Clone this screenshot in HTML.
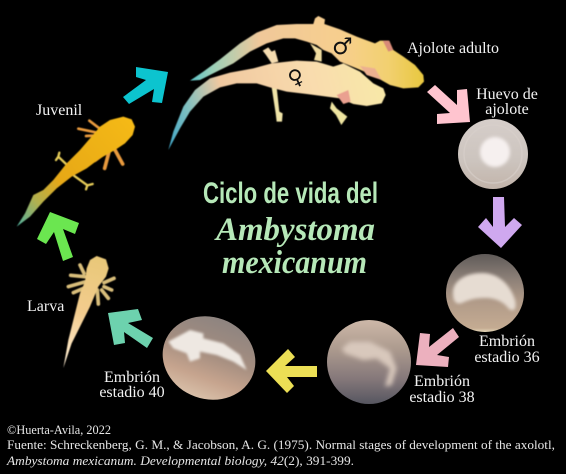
<!DOCTYPE html>
<html lang="es">
<head>
<meta charset="utf-8">
<title>Ciclo de vida del Ambystoma mexicanum</title>
<style>
html,body{margin:0;padding:0;background:#000;width:566px;height:474px;overflow:hidden}
svg{display:block;filter:blur(0.35px)}
.lab{font-family:"Liberation Serif",serif;font-size:16px;fill:#f2f2f2}
.foot{font-family:"Liberation Serif",serif;font-size:13px;fill:#e6e6e6}
.ttl{fill:#b6e8b8}
</style>
</head>
<body>
<svg width="566" height="474" viewBox="0 0 566 474" xmlns="http://www.w3.org/2000/svg">
<defs>
<filter id="b1" x="-20%" y="-20%" width="140%" height="140%"><feGaussianBlur stdDeviation="1.5"/></filter>
<filter id="b2" x="-30%" y="-30%" width="160%" height="160%"><feGaussianBlur stdDeviation="1.5"/></filter>
<filter id="b3" x="-30%" y="-30%" width="160%" height="160%"><feGaussianBlur stdDeviation="4"/></filter>
<filter id="b5" x="-30%" y="-30%" width="160%" height="160%"><feGaussianBlur stdDeviation="7"/></filter>
<linearGradient id="male" x1="150" y1="240" x2="850" y2="230" gradientUnits="userSpaceOnUse">
<stop offset="0" stop-color="#5cc4c8"/><stop offset=".1" stop-color="#9cd0b8"/><stop offset=".3" stop-color="#f0c89a"/><stop offset=".65" stop-color="#f7cf8e"/><stop offset=".85" stop-color="#f2d070"/><stop offset="1" stop-color="#e8c840"/>
</linearGradient>
<linearGradient id="female" x1="85" y1="450" x2="735" y2="280" gradientUnits="userSpaceOnUse">
<stop offset="0" stop-color="#3fa6c8"/><stop offset=".13" stop-color="#7fc0c0"/><stop offset=".3" stop-color="#f0c8a0"/><stop offset=".7" stop-color="#f9dcae"/><stop offset="1" stop-color="#f8e8a8"/>
</linearGradient>
<linearGradient id="juv" x1="50" y1="500" x2="405" y2="200" gradientUnits="userSpaceOnUse">
<stop offset="0" stop-color="#4fb0a0"/><stop offset=".2" stop-color="#b0b050"/><stop offset=".4" stop-color="#e6a818"/><stop offset="1" stop-color="#f5b915"/>
</linearGradient>
<linearGradient id="lar" x1="190" y1="924" x2="290" y2="588" gradientUnits="userSpaceOnUse">
<stop offset="0" stop-color="#fff0d8"/><stop offset=".5" stop-color="#f3cc8e"/><stop offset="1" stop-color="#e8c878"/>
</linearGradient>
<linearGradient id="egg1" x1="0" y1="0" x2="0" y2="1">
<stop offset="0" stop-color="#d6ceca"/><stop offset=".6" stop-color="#ccc4be"/><stop offset="1" stop-color="#c2b4aa"/>
</linearGradient>
<linearGradient id="egg2" x1="0" y1="0" x2="0" y2="1">
<stop offset="0" stop-color="#5f5a58"/><stop offset=".3" stop-color="#8a7e76"/><stop offset=".6" stop-color="#b09a88"/><stop offset=".95" stop-color="#c4ab92"/><stop offset="1" stop-color="#e6d8b8"/>
</linearGradient>
<linearGradient id="egg3" x1="0" y1="0" x2="0" y2="1">
<stop offset="0" stop-color="#cdb8a8"/><stop offset=".35" stop-color="#ac9a8e"/><stop offset=".7" stop-color="#85787a"/><stop offset="1" stop-color="#565660"/>
</linearGradient>
<linearGradient id="egg4" x1="0" y1="0" x2="0" y2="1">
<stop offset="0" stop-color="#8e8480"/><stop offset=".45" stop-color="#a58e80"/><stop offset=".75" stop-color="#c6a48e"/><stop offset="1" stop-color="#d8bfa8"/>
</linearGradient>
</defs>

<rect width="566" height="474" fill="#000"/>

<!-- arrows -->
<polygon fill="#0cc4cf" points="136,67 168,72 162,103 152,102 154,89 129,104 123,97 146,80 136,77"/>
<polygon fill="#ffc4cf" points="470,122 437,124 437,114 450,113 427,92 435,85 457,105 457,90 467,89"/>
<polygon fill="#cfa8ef" points="501,248 478,227 486,218 493,227 493,197 504,197 505,227 514,218 522,225"/>
<polygon fill="#ecb0be" points="416,365 420,333 430,334 429,347 453,328 459,337 437,355 449,357 448,367"/>
<polygon fill="#ecdf55" points="266,371 288,349 295,357 285,366 317,366 317,377 287,377 294,386 287,393"/>
<polygon fill="#6dd2ae" points="108,313 138,309 142,320 128,323 153,338 147,348 124,332 125,343 114,345"/>
<polygon fill="#6be650" points="50,212 79,223 75,234 63,229 73,257 63,261 54,232 46,244 37,239"/>

<!-- adults: traced in 3x coordinates -->
<g transform="translate(140,0) scale(.33333)" filter="url(#b1)">
<g>
<polygon fill="#f0dca0" points="510,130 545,150 545,185 522,180 528,160"/>
<polygon fill="url(#male)" points="150,242 190,215 240,178 300,130 350,98 410,75 470,72 520,72 525,55 535,48 555,58 553,72 600,88 650,110 705,130 720,122 745,122 760,150 790,170 825,195 850,225 852,245 835,262 790,265 750,255 720,238 690,222 650,205 600,185 575,160 550,150 530,135 500,125 465,115 430,115 380,130 330,155 280,190 230,215 180,240"/>
<polygon fill="#d88a78" points="728,122 748,122 760,150 745,155"/>
<polygon fill="#ecb090" points="660,198 705,205 725,240 680,225"/>
</g>
<g>
<polygon fill="#f5dcb0" points="395,190 378,165 368,152 385,142 395,155 405,150 415,185"/>
<polygon fill="#f0e4a8" points="395,262 410,262 418,335 428,340 426,365 410,365 407,340"/>
<polygon fill="#eee4a0" points="575,305 590,325 622,350 604,375 588,345 570,325"/>
<polygon fill="url(#female)" points="85,450 100,395 130,320 165,270 210,235 270,218 340,205 395,190 470,182 530,185 580,200 610,190 640,205 660,215 700,250 730,265 737,285 725,310 680,318 640,312 600,295 560,290 500,282 440,275 390,262 350,250 290,250 240,262 190,290 150,335 120,385"/>
<polygon fill="#eaa090" points="590,285 625,270 632,305 610,312"/>
</g>
</g>
<text x="332" y="54" font-family="DejaVu Sans,sans-serif" font-size="23" fill="#111">♂</text>
<text x="0" y="0" transform="translate(292,87) rotate(-25)" font-family="DejaVu Sans,sans-serif" font-size="21" fill="#111">♀</text>

<!-- juvenile: traced in 3x coordinates -->
<g transform="translate(0,60) scale(.33333)" filter="url(#b1)">
<g fill="none" stroke="#e89a3e" stroke-linecap="round">
<path d="M298,205 L268,182 M292,218 L235,206 M295,226 L258,228" stroke-width="8"/>
<path d="M345,270 L368,312 M328,272 L314,325" stroke-width="11"/>
<path d="M312,282 L285,302" stroke-width="9"/>
</g>
<g fill="none" stroke="#e6cc58" stroke-linecap="round" stroke-width="7">
<path d="M198,312 L175,290 M175,290 L168,300 M175,290 L178,278"/>
<path d="M222,347 L262,376 M262,376 L278,372 M262,376 L258,388"/>
</g>
<polygon fill="url(#juv)" points="50,500 75,460 100,405 130,390 160,360 200,310 240,270 270,235 300,200 330,180 370,170 395,178 405,200 398,225 375,250 345,270 300,295 260,325 215,350 170,385 130,425 90,470"/>
</g>

<!-- larva: traced in 3x coordinates -->
<g transform="translate(0,60) scale(.33333)" filter="url(#b1)">
<g fill="none" stroke="#d8bd7a" stroke-width="11" stroke-linecap="round">
<path d="M255,650 L212,646 M258,665 L205,680 M262,680 L220,698 M252,640 L240,615"/>
<path d="M312,668 L342,655 M312,680 L335,690 M305,690 L325,715 M292,690 L295,732"/>
</g>
<polygon fill="url(#lar)" points="290,588 318,598 326,625 318,650 295,680 270,740 245,790 215,850 190,924 205,840 225,760 240,700 255,665 260,625 270,600"/>
</g>

<!-- eggs -->
<g>
<circle cx="493" cy="154" r="35" fill="url(#egg1)"/>
<circle cx="493" cy="154" r="29" fill="none" stroke="#d8d0cc" stroke-width="1.5" opacity=".6"/>
<circle cx="495" cy="152" r="15" fill="#f6f0ef" filter="url(#b2)"/>
</g>
<g>
<circle cx="485" cy="293" r="39" fill="url(#egg2)"/>
<path d="M453,294 C452,282 464,273 482,273 C498,273 510,284 515,300 C517,309 514,312 509,309 C504,302 496,298 485,298 C475,298 468,300 462,303 C456,305 453,301 453,294 Z" fill="#e6dcd2" filter="url(#b2)"/>
</g>
<g>
<circle cx="369" cy="362" r="42" fill="url(#egg3)"/>
<polygon transform="translate(320,315) scale(.33333)" fill="#d8c8bc" filter="url(#b5)" points="65,100 90,80 150,80 210,110 230,160 215,210 195,215 210,160 170,130 130,135 75,115"/>
</g>
<g>
<ellipse cx="209" cy="358" rx="47" ry="41" transform="rotate(20 209 358)" fill="url(#egg4)"/>
<polygon transform="translate(90,300) scale(.33333)" fill="#eee8e2" filter="url(#b3)" points="235,125 300,90 340,100 340,115 400,130 450,165 470,210 430,185 380,165 330,155 330,175 300,185 290,160 250,145"/>
</g>

<!-- labels -->
<text class="lab" x="407" y="53">Ajolote adulto</text>
<text class="lab" text-anchor="middle" x="507" y="99">Huevo de<tspan x="507" y="114">ajolote</tspan></text>
<text class="lab" text-anchor="middle" x="507" y="346">Embrión<tspan x="507" y="362">estadio 36</tspan></text>
<text class="lab" text-anchor="middle" x="442" y="386">Embrión<tspan x="442" y="402">estadio 38</tspan></text>
<text class="lab" text-anchor="middle" x="132" y="382">Embrión<tspan x="132" y="397">estadio 40</tspan></text>
<text class="lab" x="27" y="311">Larva</text>
<text class="lab" x="36" y="115">Juvenil</text>

<!-- title -->
<text class="ttl" x="203" y="203" font-family="Liberation Sans,sans-serif" font-weight="bold" font-size="30" textLength="175" lengthAdjust="spacingAndGlyphs">Ciclo de vida del</text>
<text class="ttl" x="216" y="240" font-family="Liberation Serif,serif" font-style="italic" font-weight="bold" font-size="33" textLength="159" lengthAdjust="spacingAndGlyphs">Ambystoma</text>
<text class="ttl" x="222" y="273" font-family="Liberation Serif,serif" font-style="italic" font-weight="bold" font-size="33" textLength="145" lengthAdjust="spacingAndGlyphs">mexicanum</text>

<!-- footer -->
<text class="foot" x="7" y="434" textLength="104" lengthAdjust="spacingAndGlyphs">©Huerta-Avila, 2022</text>
<text class="foot" x="7" y="449" textLength="548" lengthAdjust="spacingAndGlyphs">Fuente: Schreckenberg, G. M., &amp; Jacobson, A. G. (1975). Normal stages of development of the axolotl,</text>
<text class="foot" x="7" y="465" textLength="347" lengthAdjust="spacingAndGlyphs"><tspan font-style="italic">Ambystoma mexicanum. Developmental biology, 42</tspan>(2), 391-399.</text>
</svg>
</body>
</html>
